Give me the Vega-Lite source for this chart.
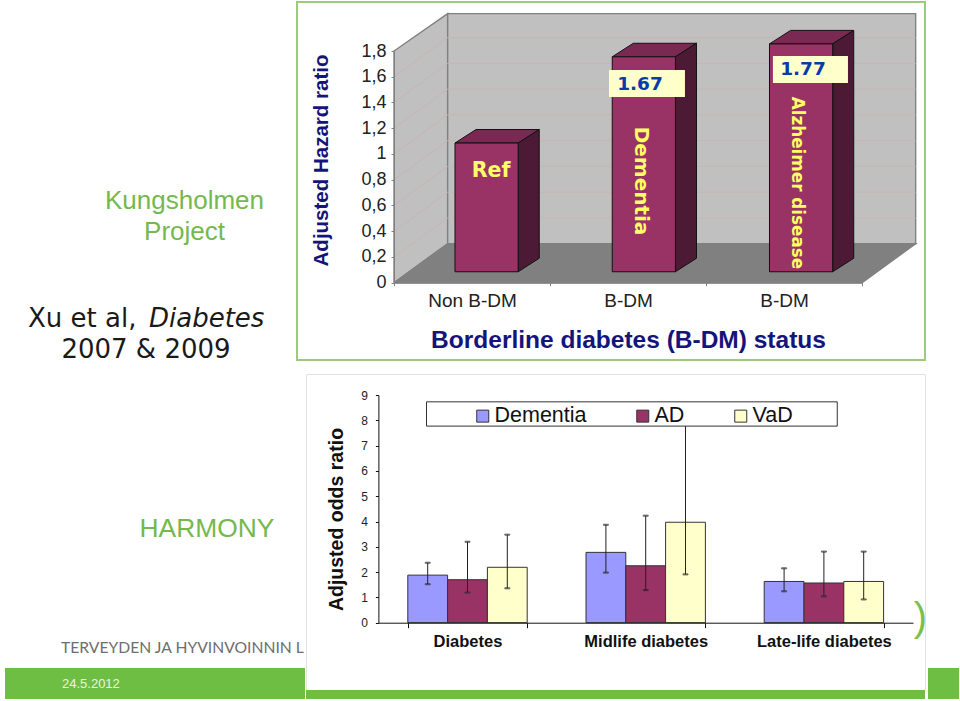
{"$schema":"https://vega.github.io/schema/vega-lite/v6.json","background":"white","padding":{"left":5,"top":1,"right":0,"bottom":0},"spacing":10,
"config":{"view":{"stroke":null},"concat":{"spacing":0},"font":"Liberation Sans","axis":{"grid":false,"labelOverlap":false,"labelBound":false}},
"vconcat":[
{"bounds":"flush","hconcat":[
 {"width":292,"height":358,"layer":[
  {"data":{"values":[{"t":"Kungsholmen"}]},"mark":{"type":"text","font":"Liberation Sans","fontSize":26,"color":"#74b84e","dx":33.5,"dy":20},"encoding":{"text":{"field":"t"}}},
  {"data":{"values":[{"t":"Project"}]},"mark":{"type":"text","font":"Liberation Sans","fontSize":26,"color":"#74b84e","dx":33.5,"dy":51},"encoding":{"text":{"field":"t"}}},
  {"data":{"values":[{"t":"Xu et al,"}]},"mark":{"type":"text","font":"DejaVu Sans","fontSize":26,"color":"#1a1a1a","align":"left","dx":-123,"dy":138},"encoding":{"text":{"field":"t"}}},
  {"data":{"values":[{"t":"Diabetes"}]},"mark":{"type":"text","font":"DejaVu Sans","fontStyle":"italic","fontSize":26,"color":"#1a1a1a","align":"left","dx":-2,"dy":138},"encoding":{"text":{"field":"t"}}},
  {"data":{"values":[{"t":"2007 & 2009"}]},"mark":{"type":"text","font":"DejaVu Sans","fontSize":26,"color":"#1a1a1a","dx":-5,"dy":169},"encoding":{"text":{"field":"t"}}}
 ]},
 {"width":628,"height":358,"view":{"fill":"white","stroke":"#9ccb7c","strokeWidth":2},
  "resolve":{"scale":{"x":"independent"},"axis":{"x":"independent"}},
  "layer":[
  {"layer":[
   {"data":{"values":[{"face":"left"},{"face":"back"},{"face":"floor"}]},
    "transform":[
     {"calculate":"datum.face=='left'?[0,0.344,0.344,0,0]:datum.face=='back'?[0.344,3.344,3.344,0.344,0.344]:[0,3,3.344,0.344,0]","as":"vx"},
     {"calculate":"datum.face=='left'?[0,0.303,2.09,1.8,0]:datum.face=='back'?[0.303,0.303,2.09,2.09,0.303]:[0,0,0.303,0.303,0]","as":"vy"},
     {"calculate":"[0,1,2,3,4]","as":"k"},
     {"flatten":["vx","vy","k"]}],
    "mark":{"type":"line","stroke":"#808080","strokeWidth":1.4,"clip":false},
    "encoding":{
     "x":{"field":"vx","type":"quantitative","axis":null,"scale":{"domain":[0,3],"range":[97,565],"nice":false,"zero":false}},
     "y":{"field":"vy","type":"quantitative","scale":{"domain":[0,1.8],"range":[280.7,49],"nice":false,"zero":false},
      "axis":{"orient":"left","offset":-97,"tickCount":10,"labelOverlap":false,"labelExpr":"replace(format(datum.value,'.1~f'),'.',',')","labelFontSize":18,"labelFont":"Liberation Sans","labelColor":"#222","labelPadding":5,"tickSize":3,"tickColor":"#808080","domainColor":"#808080","grid":false,"zindex":1,"title":"Adjusted Hazard ratio","titleFont":"Liberation Sans","titleFontSize":20.5,"titleFontWeight":"bold","titleColor":"#14147a","titleX":-73,"titleY":158,"titleBaseline":"middle","titleAlign":"center"}},
     "order":{"field":"k"},
     "detail":{"field":"face"},
     "fill":{"field":"face","type":"nominal","legend":null,"scale":{"domain":["left","back","floor"],"range":["#c0c0c0","#c0c0c0","#808080"]}}}},
   {"data":{"values":[{"tick":0.2},{"tick":0.4},{"tick":0.6},{"tick":0.8},{"tick":1},{"tick":1.2},{"tick":1.4},{"tick":1.6}]},
    "transform":[
     {"calculate":"[0,0.344,3.344]","as":"vx"},
     {"calculate":"[datum.tick,datum.tick+0.303,datum.tick+0.303]","as":"vy"},
     {"calculate":"[0,1,2]","as":"k"},
     {"flatten":["vx","vy","k"]}],
    "mark":{"type":"line","stroke":"#c9b4b4","strokeWidth":1,"clip":false},
    "encoding":{
     "x":{"field":"vx","type":"quantitative","axis":null,"scale":{"domain":[0,3],"range":[97,565],"nice":false,"zero":false}},
     "y":{"field":"vy","type":"quantitative","scale":{"domain":[0,1.8],"range":[280.7,49],"nice":false,"zero":false}},
     "order":{"field":"k"},"detail":{"field":"tick"}}},
   {"data":{"name":"hazard","values":[{"status":"Non B-DM","slot":0,"ratio":1},{"status":"B-DM","slot":1,"ratio":1.67},{"status":"B-DM","slot":2,"ratio":1.77}]},
    "transform":[
     {"calculate":"datum.slot*1.008+0.391","as":"xl"},
     {"calculate":"datum.xl+0.405","as":"xr"},
     {"calculate":"datum.ratio+0.085","as":"yt"},
     {"calculate":"[datum.xl,datum.xr,datum.xr+0.135,datum.xl+0.135,datum.xl]","as":"vx"},
     {"calculate":"[datum.yt,datum.yt,datum.yt+0.105,datum.yt+0.105,datum.yt]","as":"vy"},
     {"calculate":"[0,1,2,3,4]","as":"k"},
     {"flatten":["vx","vy","k"]}],
    "mark":{"type":"line","stroke":"#111","strokeWidth":1,"fill":"#7a2a52","clip":false},
    "encoding":{
     "x":{"field":"vx","type":"quantitative","axis":null,"scale":{"domain":[0,3],"range":[97,565],"nice":false,"zero":false}},
     "y":{"field":"vy","type":"quantitative","scale":{"domain":[0,1.8],"range":[280.7,49],"nice":false,"zero":false}},
     "order":{"field":"k"},"detail":{"field":"slot"}}},
   {"data":{"name":"hazard"},
    "transform":[
     {"calculate":"datum.slot*1.008+0.391","as":"xl"},
     {"calculate":"datum.xl+0.405","as":"xr"},
     {"calculate":"datum.ratio+0.085","as":"yt"},
     {"calculate":"[datum.xr,datum.xr+0.135,datum.xr+0.135,datum.xr,datum.xr]","as":"vx"},
     {"calculate":"[datum.yt,datum.yt+0.105,0.19,0.085,datum.yt]","as":"vy"},
     {"calculate":"[0,1,2,3,4]","as":"k"},
     {"flatten":["vx","vy","k"]}],
    "mark":{"type":"line","stroke":"#111","strokeWidth":1,"fill":"#4d1a35","clip":false},
    "encoding":{
     "x":{"field":"vx","type":"quantitative","axis":null,"scale":{"domain":[0,3],"range":[97,565],"nice":false,"zero":false}},
     "y":{"field":"vy","type":"quantitative","scale":{"domain":[0,1.8],"range":[280.7,49],"nice":false,"zero":false}},
     "order":{"field":"k"},"detail":{"field":"slot"}}},
   {"data":{"name":"hazard"},
    "transform":[
     {"calculate":"datum.slot*1.008+0.391","as":"xl"},
     {"calculate":"datum.xl+0.405","as":"xr"},
     {"calculate":"datum.ratio+0.085","as":"yt"},
     {"calculate":"0.085","as":"yb"}],
    "mark":{"type":"rect","fill":"#993366","stroke":"#111","strokeWidth":1,"clip":false},
    "encoding":{
     "x":{"field":"xl","type":"quantitative","axis":null,"scale":{"domain":[0,3],"range":[97,565],"nice":false,"zero":false}},
     "x2":{"field":"xr"},
     "y":{"field":"yt","type":"quantitative","scale":{"domain":[0,1.8],"range":[280.7,49],"nice":false,"zero":false}},
     "y2":{"field":"yb"}}},
   {"data":{"values":[{"note":"Ref"}]},"mark":{"type":"text","font":"DejaVu Sans","fontWeight":"bold","fontSize":20.5,"color":"#ffff66","clip":false},"encoding":{"text":{"field":"note"},
     "x":{"datum":0.622,"type":"quantitative","axis":null,"scale":{"domain":[0,3],"range":[97,565],"nice":false,"zero":false}},
     "y":{"datum":0.868,"type":"quantitative","scale":{"domain":[0,1.8],"range":[280.7,49],"nice":false,"zero":false}}}},
   {"data":{"values":[{"note":"Dementia"}]},"mark":{"type":"text","font":"DejaVu Sans","fontWeight":"bold","fontSize":20,"angle":90,"color":"#ffff66","clip":false},"encoding":{"text":{"field":"note"},
     "x":{"datum":1.583,"type":"quantitative","axis":null,"scale":{"domain":[0,3],"range":[97,565],"nice":false,"zero":false}},
     "y":{"datum":0.79,"type":"quantitative","scale":{"domain":[0,1.8],"range":[280.7,49],"nice":false,"zero":false}}}},
   {"data":{"values":[{"note":"Alzheimer disease"}]},"mark":{"type":"text","font":"DejaVu Sans","fontWeight":"bold","fontSize":16.8,"angle":90,"color":"#ffff66","clip":false},"encoding":{"text":{"field":"note"},
     "x":{"datum":2.583,"type":"quantitative","axis":null,"scale":{"domain":[0,3],"range":[97,565],"nice":false,"zero":false}},
     "y":{"datum":0.775,"type":"quantitative","scale":{"domain":[0,1.8],"range":[280.7,49],"nice":false,"zero":false}}}},
   {"data":{"values":[{"note":"1.67","x0":1.378,"x1":1.865,"y0":1.443,"y1":1.653},{"note":"1.77","x0":2.429,"x1":2.91,"y0":1.552,"y1":1.761}]},"mark":{"type":"rect","fill":"#ffffcc","clip":false},"encoding":{
     "x":{"field":"x0","type":"quantitative","axis":null,"scale":{"domain":[0,3],"range":[97,565],"nice":false,"zero":false}},"x2":{"field":"x1"},
     "y":{"field":"y0","type":"quantitative","scale":{"domain":[0,1.8],"range":[280.7,49],"nice":false,"zero":false}},"y2":{"field":"y1"}}},
   {"data":{"values":[{"note":"1.67","cx":1.577,"cy":1.544},{"note":"1.77","cx":2.622,"cy":1.66}]},"mark":{"type":"text","font":"DejaVu Sans","fontWeight":"bold","fontSize":18.5,"color":"#0a3aa8","clip":false},"encoding":{"text":{"field":"note"},
     "x":{"field":"cx","type":"quantitative","axis":null,"scale":{"domain":[0,3],"range":[97,565],"nice":false,"zero":false}},
     "y":{"field":"cy","type":"quantitative","scale":{"domain":[0,1.8],"range":[280.7,49],"nice":false,"zero":false}}}}
  ]},
  {"data":{"name":"hazard"},"mark":{"type":"rule","opacity":0},"encoding":{
    "x":{"field":"slot","type":"ordinal","scale":{"type":"band","range":[97,565],"paddingInner":0,"paddingOuter":0},
     "axis":{"orient":"bottom","offset":-77.3,"tickBand":"extent","labelExpr":"['Non B-DM','B-DM','B-DM'][datum.value]","labelAngle":0,"labelFontSize":19,"labelFont":"Liberation Sans","labelColor":"#222","labelPadding":6,"tickSize":3,"tickColor":"#808080","domainColor":"#808080","zindex":1,"title":"Borderline diabetes (B-DM) status","titleFont":"Liberation Sans","titleFontSize":24.5,"titleFontWeight":"bold","titleColor":"#14147a","titleX":331,"titleY":58,"titleBaseline":"middle","titleAlign":"center"}}}}
 ]}
]},
{"hconcat":[
 {"bounds":"flush","vconcat":[
  {"width":300,"height":294,"layer":[
   {"data":{"values":[{"t":"HARMONY"}]},"mark":{"type":"text","font":"Liberation Sans","fontSize":26.4,"color":"#74b84e","dx":52,"dy":8},"encoding":{"text":{"field":"t"}}},
   {"data":{"values":[{"t":"TERVEYDEN JA HYVINVOINNIN L"}]},"mark":{"type":"text","font":"Lato","fontSize":15.7,"color":"#6e6e6e","align":"left","dx":-94,"dy":127},"encoding":{"text":{"field":"t"}}}
  ]},
  {"width":300,"height":31,"view":{"fill":"#6fbe44"},"data":{"values":[{"t":"24.5.2012"}]},"mark":{"type":"text","font":"Liberation Sans","fontSize":13,"color":"#e8f6dc","align":"left","dx":-93,"dy":0},"encoding":{"text":{"field":"t"}}}
 ]},
 {"bounds":"flush","vconcat":[
  {"width":619,"height":316,"view":{"fill":"white","stroke":"#e2e2e2","strokeWidth":1},
   "resolve":{"scale":{"x":"independent"},"axis":{"x":"independent"}},
   "layer":[
   {"data":{"values":[
     {"group":"Diabetes","type":"Dementia","or":1.88,"low":1.52,"high":2.37},
     {"group":"Diabetes","type":"AD","or":1.70,"low":1.19,"high":3.2},
     {"group":"Diabetes","type":"VaD","or":2.19,"low":1.36,"high":3.48},
     {"group":"Midlife diabetes","type":"Dementia","or":2.78,"low":1.98,"high":3.87},
     {"group":"Midlife diabetes","type":"AD","or":2.25,"low":1.29,"high":4.23},
     {"group":"Midlife diabetes","type":"VaD","or":3.97,"low":1.91,"high":7.9},
     {"group":"Late-life diabetes","type":"Dementia","or":1.63,"low":1.24,"high":2.15},
     {"group":"Late-life diabetes","type":"AD","or":1.57,"low":1.04,"high":2.81},
     {"group":"Late-life diabetes","type":"VaD","or":1.63,"low":0.92,"high":2.81}]},
    "encoding":{
     "x":{"field":"group","type":"nominal","sort":["Diabetes","Midlife diabetes","Late-life diabetes"],"scale":{"range":[72.4,607],"paddingInner":0.33,"paddingOuter":0.165},
      "axis":{"orient":"bottom","offset":-67.3,"tickBand":"extent","labelAngle":0,"title":null,"labelFont":"Liberation Sans","labelFontSize":16.5,"labelFontWeight":"bold","labelColor":"#111","labelPadding":6,"tickSize":5,"tickColor":"#111","domainColor":"#111","zindex":1}},
     "xOffset":{"field":"type","type":"nominal","sort":["Dementia","AD","VaD"],"scale":{"paddingInner":0,"paddingOuter":0}}},
    "layer":[
     {"mark":{"type":"bar","stroke":"#333","strokeWidth":1},"encoding":{
       "y":{"field":"or","type":"quantitative","scale":{"domain":[0,9],"range":[248.7,21],"nice":false},
        "axis":{"orient":"left","offset":-72.4,"tickCount":10,"labelOverlap":false,"labelFont":"Liberation Sans","labelFontSize":12,"labelColor":"#222","labelPadding":8,"tickSize":3,"tickColor":"#111","domainColor":"#111","grid":false,"zindex":1,"title":"Adjusted odds ratio","titleFont":"Liberation Sans","titleFontSize":19.5,"titleFontWeight":"bold","titleColor":"#111","titleX":-42,"titleY":145,"titleBaseline":"middle","titleAlign":"center"}},
       "color":{"field":"type","type":"nominal","sort":["Dementia","AD","VaD"],"scale":{"domain":["Dementia","AD","VaD"],"range":["#9999ff","#993366","#ffffcc"]},
        "legend":{"orient":"none","legendX":467,"legendY":403,"direction":"horizontal","columns":3,"title":null,"symbolType":"square","symbolSize":144,"symbolStrokeColor":"#333","symbolStrokeWidth":1,"labelFont":"Liberation Sans","labelFontSize":21.5,"labelColor":"#111","labelOffset":1,"columnPadding":45,"padding":0,"zindex":1}}}},
     {"mark":{"type":"rule","stroke":"#222","strokeWidth":1},"encoding":{
       "y":{"field":"low","type":"quantitative","scale":{"domain":[0,9],"range":[248.7,21],"nice":false}},"y2":{"field":"high"}}},
     {"mark":{"type":"tick","stroke":"#222","strokeWidth":1,"size":5},"encoding":{
       "y":{"field":"low","type":"quantitative","scale":{"domain":[0,9],"range":[248.7,21],"nice":false}}}},
     {"mark":{"type":"tick","stroke":"#222","strokeWidth":1,"size":5},"encoding":{
       "y":{"field":"high","type":"quantitative","scale":{"domain":[0,9],"range":[248.7,21],"nice":false}}}}
    ]},
   {"data":{"values":[{"box":"legend"}]},"mark":{"type":"rect","fill":"white","stroke":"#333","strokeWidth":1},"encoding":{
     "x":{"datum":0.27,"type":"quantitative","axis":null,"scale":{"domain":[0,3],"range":[72.4,607],"nice":false,"zero":false}},"x2":{"datum":2.575},
     "y":{"datum":7.77,"type":"quantitative","scale":{"domain":[0,9],"range":[248.7,21],"nice":false}},"y2":{"datum":8.73}}},
   {"data":{"values":[{"t":")"}]},"mark":{"type":"text","font":"Liberation Sans","fontSize":40,"color":"#7cc04a","dx":305,"dy":87},"encoding":{"text":{"field":"t"}}}
  ]},
  {"width":619,"height":9,"view":{"fill":"#6fbe44"},"data":{"values":[{"t":""}]},"mark":{"type":"text"},"encoding":{"text":{"field":"t"}}}
 ]},
 {"bounds":"flush","vconcat":[
  {"width":31,"height":294,"data":{"values":[{"t":""}]},"mark":{"type":"text"},"encoding":{"text":{"field":"t"}}},
  {"width":31,"height":31,"view":{"fill":"#6fbe44"},"data":{"values":[{"t":""}]},"mark":{"type":"text"},"encoding":{"text":{"field":"t"}}}
 ]}
]}
]}
